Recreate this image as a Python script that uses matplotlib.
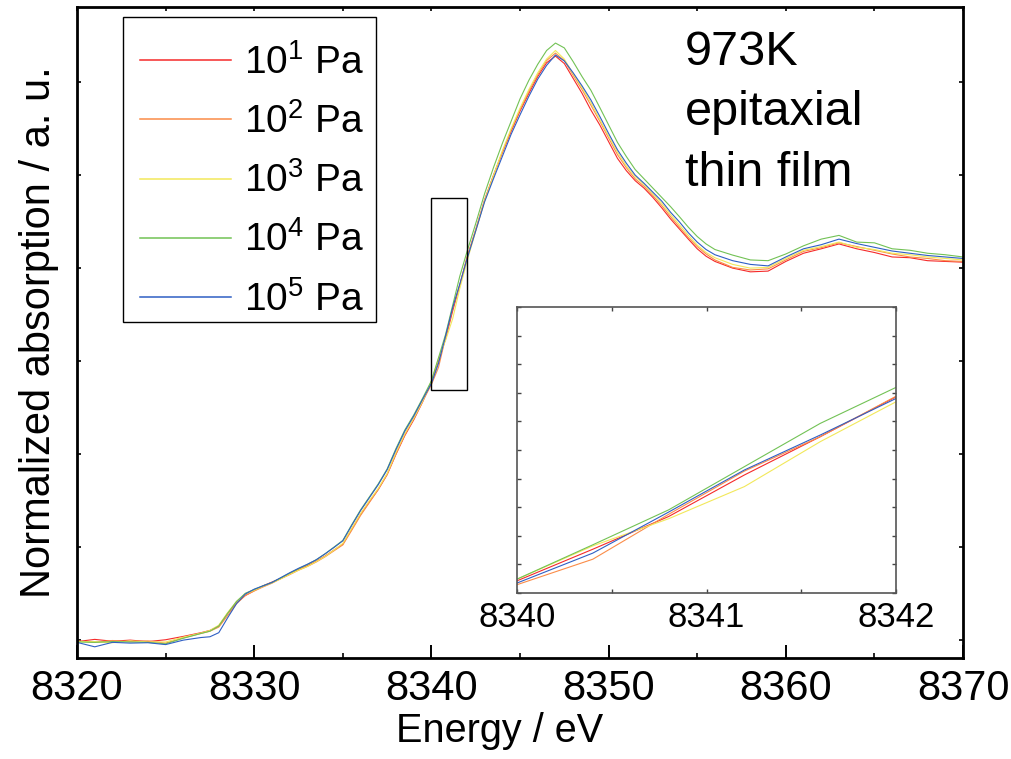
import numpy as np
import matplotlib
matplotlib.use("Agg")
import matplotlib.pyplot as plt
from matplotlib.patches import Rectangle
from matplotlib.ticker import MultipleLocator

plt.rcParams["font.family"] = ["Liberation Sans", "DejaVu Sans"]
plt.rcParams["mathtext.fontset"] = "custom"
plt.rcParams["mathtext.rm"] = "Liberation Sans"
plt.rcParams["mathtext.it"] = "Liberation Sans:italic"

# ------------------------------------------------------------
# XANES spectra (normalized absorption)
# ------------------------------------------------------------
energy = [
    8320, 8321, 8322, 8323, 8324, 8325, 8326, 8327, 8327.5, 8328,
    8328.5, 8329, 8329.5, 8330, 8330.5, 8331, 8331.5, 8332, 8332.5, 8333,
    8333.5, 8334, 8334.5, 8335, 8335.5, 8336, 8336.5, 8337, 8337.5, 8338,
    8338.5, 8339, 8339.5, 8340, 8340.4, 8340.8, 8341.2, 8341.6, 8342, 8342.5,
    8343, 8343.5, 8344, 8344.5, 8345, 8345.5, 8346, 8346.5, 8347, 8347.5,
    8348, 8348.5, 8349, 8349.5, 8350, 8350.5, 8351, 8351.5, 8352, 8352.5,
    8353, 8353.5, 8354, 8354.5, 8355, 8355.5, 8356, 8357, 8358, 8359,
    8360, 8361, 8362, 8363, 8364, 8365, 8366, 8367, 8368, 8369, 8370,
]

mu_1e1 = [  # 10^1 Pa, red
    -0.004, 0.002, -0.003, 0.000, -0.004, 0.001, 0.010, 0.020, 0.026, 0.038,
    0.072, 0.100, 0.120, 0.133, 0.146, 0.156, 0.166, 0.178, 0.190, 0.200,
    0.212, 0.226, 0.242, 0.258, 0.298, 0.338, 0.372, 0.405, 0.445, 0.500,
    0.550, 0.592, 0.640, 0.694, 0.751, 0.810, 0.885, 0.954, 1.026, 1.102,
    1.182, 1.248, 1.310, 1.368, 1.422, 1.470, 1.515, 1.552, 1.570, 1.550,
    1.510, 1.470, 1.425, 1.385, 1.340, 1.295, 1.262, 1.235, 1.215, 1.190,
    1.162, 1.132, 1.105, 1.078, 1.052, 1.032, 1.018, 1.000, 0.990, 0.992,
    1.018, 1.040, 1.052, 1.065, 1.052, 1.042, 1.030, 1.028, 1.020, 1.018, 1.016,
]
mu_1e2 = [  # 10^2 Pa, orange
    -0.002, -0.006, -0.001, -0.004, -0.002, -0.008, 0.006, 0.018, 0.024, 0.035,
    0.066, 0.098, 0.120, 0.132, 0.143, 0.153, 0.165, 0.176, 0.188, 0.198,
    0.210, 0.224, 0.240, 0.256, 0.295, 0.335, 0.370, 0.405, 0.445, 0.500,
    0.552, 0.595, 0.642, 0.687, 0.733, 0.814, 0.892, 0.954, 1.027, 1.104,
    1.184, 1.250, 1.312, 1.372, 1.426, 1.476, 1.520, 1.558, 1.578, 1.558,
    1.518, 1.480, 1.438, 1.395, 1.350, 1.305, 1.270, 1.240, 1.220, 1.195,
    1.168, 1.138, 1.110, 1.082, 1.058, 1.038, 1.022, 1.002, 0.995, 0.998,
    1.022, 1.045, 1.055, 1.068, 1.058, 1.048, 1.038, 1.030, 1.026, 1.020, 1.018,
]
mu_1e3 = [  # 10^3 Pa, yellow
    -0.004, -0.004, -0.007, -0.002, -0.005, -0.005, 0.008, 0.019, 0.026, 0.040,
    0.074, 0.104, 0.124, 0.134, 0.145, 0.154, 0.165, 0.177, 0.188, 0.198,
    0.211, 0.225, 0.242, 0.260, 0.300, 0.340, 0.375, 0.408, 0.448, 0.505,
    0.555, 0.596, 0.642, 0.697, 0.757, 0.806, 0.864, 0.945, 1.017, 1.100,
    1.180, 1.248, 1.315, 1.375, 1.430, 1.480, 1.525, 1.562, 1.585, 1.562,
    1.522, 1.485, 1.445, 1.400, 1.355, 1.312, 1.275, 1.246, 1.225, 1.200,
    1.174, 1.144, 1.116, 1.088, 1.062, 1.042, 1.028, 1.010, 1.000, 1.002,
    1.026, 1.048, 1.058, 1.070, 1.056, 1.050, 1.040, 1.036, 1.030, 1.026, 1.022,
]
mu_1e4 = [  # 10^4 Pa, green
    -0.005, -0.006, -0.004, -0.005, -0.006, -0.010, 0.005, 0.018, 0.024, 0.038,
    0.072, 0.104, 0.126, 0.136, 0.146, 0.155, 0.167, 0.180, 0.192, 0.203,
    0.216, 0.232, 0.250, 0.268, 0.310, 0.350, 0.385, 0.420, 0.460, 0.515,
    0.565, 0.605, 0.650, 0.697, 0.759, 0.822, 0.900, 0.978, 1.043, 1.120,
    1.200, 1.270, 1.335, 1.395, 1.455, 1.505, 1.548, 1.585, 1.605, 1.592,
    1.555, 1.515, 1.478, 1.432, 1.385, 1.338, 1.300, 1.265, 1.240, 1.215,
    1.190, 1.165, 1.138, 1.110, 1.085, 1.065, 1.050, 1.035, 1.022, 1.020,
    1.038, 1.060, 1.078, 1.088, 1.070, 1.068, 1.052, 1.048, 1.040, 1.036, 1.030,
]
mu_1e5 = [  # 10^5 Pa, blue
    -0.006, -0.018, -0.006, -0.008, -0.007, -0.012, 0.000, 0.007, 0.009, 0.020,
    0.060, 0.098, 0.124, 0.137, 0.146, 0.155, 0.168, 0.181, 0.193, 0.204,
    0.216, 0.232, 0.249, 0.267, 0.308, 0.348, 0.383, 0.418, 0.458, 0.512,
    0.562, 0.602, 0.647, 0.690, 0.744, 0.818, 0.894, 0.957, 1.023, 1.100,
    1.178, 1.240, 1.300, 1.360, 1.412, 1.462, 1.508, 1.545, 1.573, 1.557,
    1.525, 1.490, 1.452, 1.408, 1.362, 1.318, 1.282, 1.250, 1.228, 1.204,
    1.180, 1.150, 1.124, 1.095, 1.070, 1.050, 1.036, 1.020, 1.010, 1.006,
    1.030, 1.052, 1.063, 1.078, 1.066, 1.056, 1.046, 1.040, 1.034, 1.030, 1.026,
]

series = [mu_1e1, mu_1e2, mu_1e3, mu_1e4, mu_1e5]
labels = [r"10$^{1}$ Pa", r"10$^{2}$ Pa", r"10$^{3}$ Pa", r"10$^{4}$ Pa", r"10$^{5}$ Pa"]
colors = ["#f52a2a", "#fb8c48", "#f2e85a", "#72c255", "#2f5fc4"]

xlim_main = (8320, 8370)
ylim_main = (-0.048, 1.702)
xlim_zoom = (8340, 8342)
ylim_zoom = (0.672, 1.188)

# ------------------------------------------------------------
# Main plot
# ------------------------------------------------------------
fig = plt.figure(figsize=(10.12, 7.59), dpi=100)
ax = fig.add_axes([0.0761, 0.1331, 0.8755, 0.8577])

for y, lab, c in zip(series, labels, colors):
    ax.plot(energy, y, color=c, lw=0.8, label=lab)

ax.set_xlim(*xlim_main)
ax.set_ylim(*ylim_main)
ax.xaxis.set_major_locator(MultipleLocator(10))
ax.xaxis.set_minor_locator(MultipleLocator(5))
ax.yaxis.set_major_locator(MultipleLocator(0.25))
ax.tick_params(axis="x", which="major", direction="in", length=9.5, width=1.4,
               labelsize=30, pad=8)
ax.tick_params(axis="x", which="minor", direction="in", length=3.6, width=1.2)
ax.tick_params(axis="y", direction="in", length=3, width=1.2, right=True,
               labelleft=False)
for s in ax.spines.values():
    s.set_linewidth(2.0)

top = ax.secondary_xaxis("top")
top.set_xticks(np.arange(8320, 8371, 5))
top.tick_params(direction="in", length=3, width=1.2, labeltop=False)

ax.set_xlabel("Energy / eV", fontsize=28.5, labelpad=2)
ax.xaxis.label.set_x(0.477)
ax.set_ylabel("Normalized absorption / a. u.", fontsize=30, labelpad=13)

ax.add_patch(Rectangle((xlim_zoom[0], ylim_zoom[0]),
                       xlim_zoom[1] - xlim_zoom[0], ylim_zoom[1] - ylim_zoom[0],
                       fill=False, ec="black", lw=1.0, zorder=5))

# legend entries without frame; the frame is drawn as its own box
leg = ax.legend(loc="upper left", bbox_to_anchor=(0.1383, 0.942),
                bbox_transform=fig.transFigure, borderaxespad=0, borderpad=0,
                fontsize=28, frameon=False, handlelength=2.35,
                handletextpad=0.33, labelspacing=0.55)
for line in leg.get_lines():
    line.set_linewidth(1.1)
fig.add_artist(Rectangle((0.1215, 1 - 322 / 759), 253 / 1012, 305 / 759,
                         transform=fig.transFigure, fill=False,
                         ec="black", lw=1.0))

fig.text(0.677, 0.961, "973K\nepitaxial\nthin film", fontsize=35,
         ha="left", va="top", linespacing=1.45)

# ------------------------------------------------------------
# Inset (zoom on the edge)
# ------------------------------------------------------------
axi = fig.add_axes([0.5109, 0.2187, 0.3745, 0.3768])
for y, c in zip(series, colors):
    axi.plot(energy, y, color=c, lw=0.8)
axi.set_xlim(*xlim_zoom)
axi.set_ylim(*ylim_zoom)
axi.set_xticks([8340, 8341, 8342])
axi.xaxis.set_minor_locator(MultipleLocator(0.5))
axi.set_yticks(np.linspace(ylim_zoom[0], ylim_zoom[1], 11))
axi.tick_params(axis="both", which="both", direction="in", length=3, width=1.0,
                top=True, right=True, labelleft=False, labelsize=25, pad=6,
                color="#444444")
for s in axi.spines.values():
    s.set_linewidth(1.2)
    s.set_color("#555555")

fig.savefig("out.png", dpi=100)
